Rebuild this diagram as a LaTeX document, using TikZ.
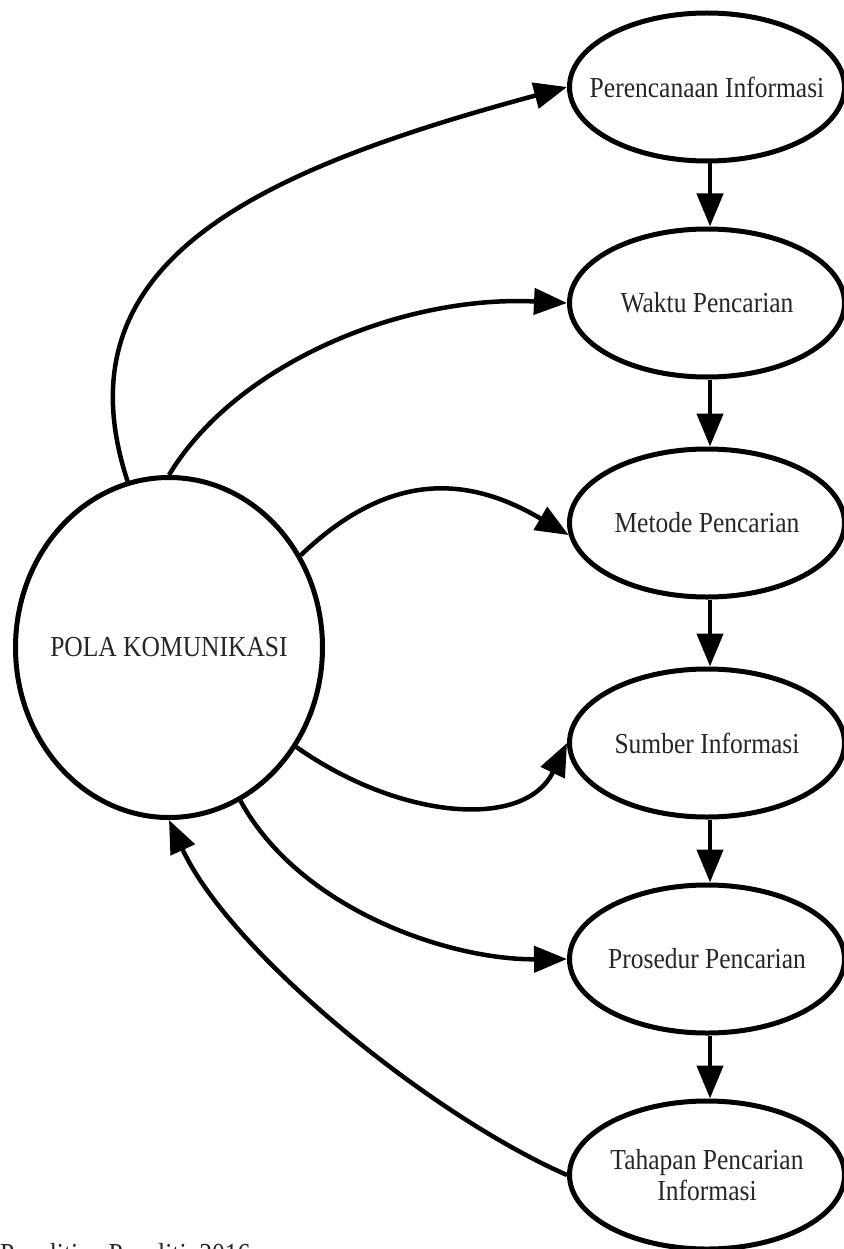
\documentclass[tikz,border=0pt]{standalone}
\usepackage{fontspec}
\setmainfont{Liberation Serif}[FakeStretch=0.88]
\usetikzlibrary{arrows.meta,shapes.geometric}
\begin{document}
\begin{tikzpicture}[x=1pt,y=-1pt,
  oval/.style={draw=black, line width=5pt, ellipse, minimum width=275pt,
    minimum height=148pt, inner sep=0pt},
  lbl/.style={font=\fontsize{29}{31}\selectfont, text=black!85, align=center,
    inner sep=0pt},
  link/.style={line width=4.5pt, -{Triangle[length=33pt,width=26pt]}},
]
\useasboundingbox (0,0) rectangle (843,1249);

% central node
\node[draw=black, line width=5pt, ellipse, minimum width=307pt, minimum height=340pt,
  inner sep=0pt, label={[lbl]center:POLA KOMUNIKASI}] (pola) at (169,647.5) {};

% column of stages
\node[oval, label={[lbl]center:Perencanaan Informasi}] (plan) at (707,87) {};
\node[oval, label={[lbl]center:Waktu Pencarian}] (waktu) at (707,303) {};
\node[oval, label={[lbl]center:Metode Pencarian}] (metode) at (707,523) {};
\node[oval, label={[lbl]center:Sumber Informasi}] (sumber) at (707,743) {};
\node[oval, label={[lbl]center:Prosedur Pencarian}] (prosedur) at (707,959) {};
\node[oval, label={[lbl]center:Tahapan Pencarian\\Informasi}] (tahapan) at (707,1175) {};

% downward chain
\draw[link] ([xshift=3pt]plan.south) -- ([xshift=3pt]waktu.north);
\draw[link] ([xshift=3pt]waktu.south) -- ([xshift=3pt]metode.north);
\draw[link] ([xshift=3pt]metode.south) -- ([xshift=3pt]sumber.north);
\draw[link] ([xshift=3pt]sumber.south) -- ([xshift=3pt]prosedur.north);
\draw[link] ([xshift=3pt]prosedur.south) -- ([xshift=3pt]tahapan.north);

% curved links from the central node
\draw[link] (pola.104) .. controls (55,260) and (260,170) .. (plan.west);
\draw[link] (pola.90) .. controls (235,365) and (400,295) .. (waktu.west);
\draw[link] (pola.35) .. controls (395,465) and (475,480) .. (metode.185);
\draw[link] (pola.-38) .. controls (400,820) and (525,830) .. (sumber.west);
\draw[link] (pola.-65) .. controls (300,910) and (450,960) .. (prosedur.west);
\draw[link] (tahapan.west) .. controls (430,1115) and (230,952) .. (pola.-90);

% source line, running past the lower edge
\node[lbl, anchor=base west] (src) at (0,1263) {Penelitian Peneliti, 2016};
\end{tikzpicture}
\end{document}
